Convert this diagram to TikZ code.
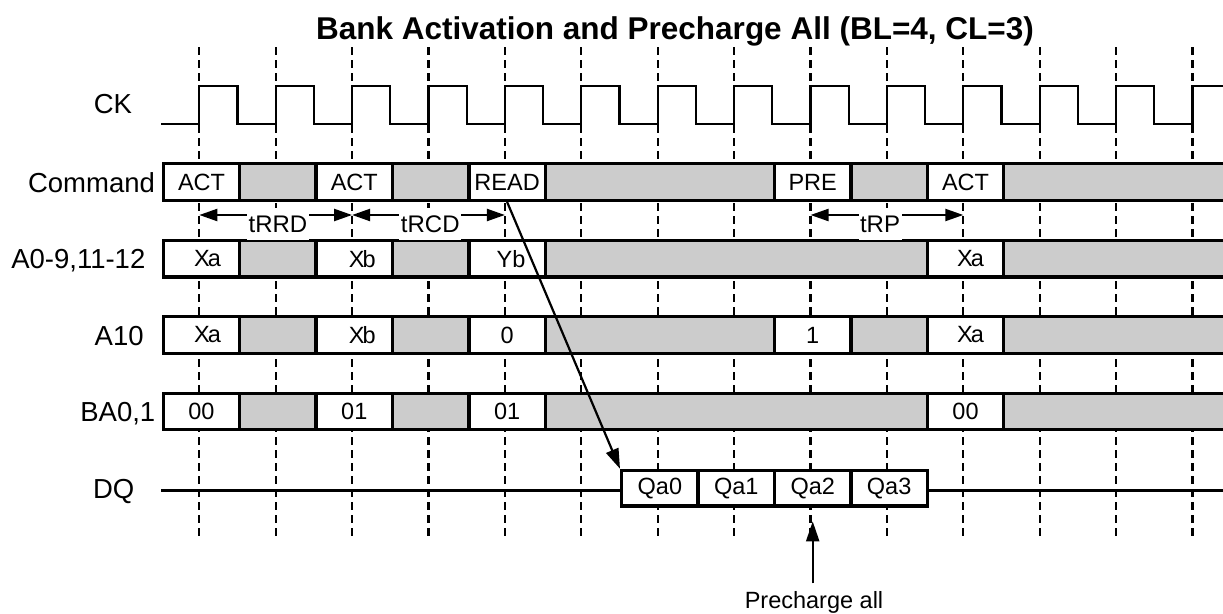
\documentclass[tikz,border=0pt]{standalone}
\usepackage{fontspec}
\setmainfont{Liberation Sans}
\usetikzlibrary{arrows.meta}
\definecolor{cellgray}{HTML}{CCCCCC}
\newcommand\cellnode[6]{%
  \pgfmathsetmacro\cellcx{163.3+76.4*(#2+#3)/2}%
  \pgfmathsetmacro\cellwd{76.4*(#3-#2)}%
  \node[#5, minimum width=\cellwd pt] (#1) at (\cellcx,#4) {#6};}
\begin{document}
\begin{tikzpicture}[x=1pt,y=-1pt,
  cellw/.style={draw, line width=3.4pt, fill=white, minimum height=36.5pt, inner sep=0pt, font=\fontsize{23.5}{28}\selectfont},
  cellg/.style={cellw, fill=cellgray},
  dqcell/.style={cellw, minimum height=35.7pt},
  lbl/.style={font=\fontsize{27.5}{32}\selectfont, anchor=base, inner sep=0pt},
  tlbl/.style={font=\fontsize{24}{28}\selectfont, anchor=base, fill=white, inner xsep=1.5pt, inner ysep=7.5pt},
  dashline/.style={line width=2.2pt, dash pattern=on 8pt off 5pt},
  clk/.style={line width=2.2pt},
  tarr/.style={line width=2.2pt, {Triangle[length=18pt,width=12pt]}-{Triangle[length=18pt,width=12pt]}},
  arr/.style={line width=2.2pt, -{Triangle[length=20pt,width=13pt]}}]
\useasboundingbox (0,0) rectangle (1223,613);
\clip (0,0) rectangle (1223,613);

% title
\node[font=\bfseries\fontsize{31.5}{37}\selectfont, anchor=base, inner sep=0pt] (title) at (675,39.3) {Bank Activation and Precharge All (BL=4, CL=3)};

% dashed clock-edge guides
\foreach \k in {0,...,13} {
  \draw[dashline] ({199.3+76.4*\k},47) coordinate (dt\k) -- ({199.3+76.4*\k},538) coordinate (db\k);
  \coordinate (a\k) at ({199.3+76.4*\k},215);
}

% clock
\draw[clk] (161,124.3) foreach \k in {0,...,13} { -- ({199.3+76.4*\k},124.3) -- ++(0,-38.6) -- ++(38.2,0) -- ++(0,38.6) };

% DQ line
\draw[line width=2.4pt] (161,490.5) coordinate (dqs) -- (1240,490.5) coordinate (dqe);

% signal labels
\node[lbl] (lck) at (112.9,113.3) {CK};
\node[lbl] (lcmd) at (91.5,192.7) {Command};
\node[lbl] (la0) at (78.3,268.3) {A0-9,11-12};
\node[lbl] (la10) at (119.2,345) {A10};
\node[lbl] (lba) at (117.8,421.7) {BA0,1};
\node[lbl] (ldq) at (113.7,498.5) {DQ};

% Command row
\cellnode{cmd0}{0}{1}{182}{cellw}{ACT}
\cellnode{cmd1}{1}{2}{182}{cellg}{}
\cellnode{cmd2}{2}{3}{182}{cellw}{ACT}
\cellnode{cmd3}{3}{4}{182}{cellg}{}
\cellnode{cmd4}{4}{5}{182}{cellw}{READ}
\cellnode{cmd5}{5}{8}{182}{cellg}{}
\cellnode{cmd8}{8}{9}{182}{cellw}{PRE}
\cellnode{cmd9}{9}{10}{182}{cellg}{}
\cellnode{cmd10}{10}{11}{182}{cellw}{ACT}
\cellnode{cmd11}{11}{14}{182}{cellg}{}

% A0-9,11-12 row
\cellnode{ad0}{0}{1}{258.7}{cellw}{\kern12pt X\kern-2pt a}
\cellnode{ad1}{1}{2}{258.7}{cellg}{}
\cellnode{ad2}{2}{3}{258.7}{cellw}{\kern16pt X\kern-2pt b}
\cellnode{ad3}{3}{4}{258.7}{cellg}{}
\cellnode{ad4}{4}{5}{258.7}{cellw}{\kern8pt Yb}
\cellnode{ad5}{5}{10}{258.7}{cellg}{}
\cellnode{ad10}{10}{11}{258.7}{cellw}{\kern10pt X\kern-2pt a}
\cellnode{ad11}{11}{14}{258.7}{cellg}{}

% A10 row
\cellnode{at0}{0}{1}{335}{cellw}{\kern12pt X\kern-2pt a}
\cellnode{at1}{1}{2}{335}{cellg}{}
\cellnode{at2}{2}{3}{335}{cellw}{\kern16pt X\kern-2pt b}
\cellnode{at3}{3}{4}{335}{cellg}{}
\cellnode{at4}{4}{5}{335}{cellw}{0}
\cellnode{at5}{5}{8}{335}{cellg}{}
\cellnode{at8}{8}{9}{335}{cellw}{1}
\cellnode{at9}{9}{10}{335}{cellg}{}
\cellnode{at10}{10}{11}{335}{cellw}{\kern10pt X\kern-2pt a}
\cellnode{at11}{11}{14}{335}{cellg}{}

% BA0,1 row
\cellnode{ba0}{0}{1}{411.5}{cellw}{00}
\cellnode{ba1}{1}{2}{411.5}{cellg}{}
\cellnode{ba2}{2}{3}{411.5}{cellw}{01}
\cellnode{ba3}{3}{4}{411.5}{cellg}{}
\cellnode{ba4}{4}{5}{411.5}{cellw}{01}
\cellnode{ba5}{5}{10}{411.5}{cellg}{}
\cellnode{ba10}{10}{11}{411.5}{cellw}{00}
\cellnode{ba11}{11}{14}{411.5}{cellg}{}

% DQ burst
\cellnode{dq0}{6}{7}{488.3}{dqcell}{Qa0}
\cellnode{dq1}{7}{8}{488.3}{dqcell}{Qa1}
\cellnode{dq2}{8}{9}{488.3}{dqcell}{Qa2}
\cellnode{dq3}{9}{10}{488.3}{dqcell}{Qa3}

% timing arrows
\draw[tarr] (a0) -- (a2);
\draw[tarr] (a2) -- (a4);
\draw[tarr] (a8) -- (a10);
\node[tlbl] (trrd) at (278,232) {tRRD};
\node[tlbl] (trcd) at (430.3,232) {tRCD};
\node[tlbl] (trp) at (880,232) {tRP};

% READ to data arrow
\draw[arr] (cmd4.south) -- (dq0.north west);

% Precharge all
\node[font=\fontsize{23.5}{28}\selectfont, anchor=base, inner sep=7.8pt] (pa) at (814,608.5) {Precharge all};
\draw[arr] (pa.north -| dq2.south) -- ([yshift=-13.5pt]dq2.south);
\end{tikzpicture}
\end{document}
